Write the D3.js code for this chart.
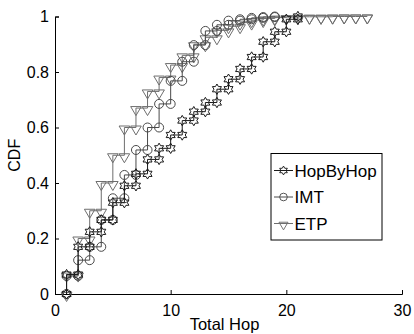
<!DOCTYPE html>
<html>
<head>
<meta charset="utf-8">
<script src="https://cdn.jsdelivr.net/npm/d3@7"></script>
<style>
  html, body { margin: 0; padding: 0; background: #fff; }
  svg { display: block; font-family: "Liberation Sans", Arial, sans-serif; }
</style>
</head>
<body>
<svg id="chart" width="414" height="334"></svg>
<script>
// Empirical CDF of total hop counts, one value per hop count starting at 1
const hopByHop = [0.07, 0.17, 0.224, 0.267, 0.329, 0.39, 0.433, 0.485, 0.525, 0.573,
                  0.625, 0.657, 0.69, 0.738, 0.774, 0.811, 0.854, 0.909, 0.945, 0.99, 1.0];
const imt      = [0.065, 0.122, 0.17, 0.267, 0.345, 0.429, 0.519, 0.60, 0.685, 0.768,
                  0.837, 0.897, 0.948, 0.97, 0.985, 0.99, 0.995, 0.998, 1.0];
const etp      = [0.07, 0.2, 0.3, 0.4, 0.5, 0.6, 0.67, 0.73, 0.78, 0.825,
                  0.86, 0.9, 0.925, 0.95, 0.965, 0.978, 0.987, 0.993, 0.996, 0.998,
                  0.999, 0.999, 0.999, 1.0, 1.0, 1.0, 1.0];
const seriesNames = ["HopByHop", "IMT", "ETP"];
const xTicks = [0, 10, 20, 30];
const yTicks = [0, 0.2, 0.4, 0.6, 0.8, 1];
const xLabel = "Total Hop";
const yLabel = "CDF";

const svg = d3.select("#chart");
const plotLeft = 55, plotRight = 402, plotTop = 16.5, plotBottom = 294;

const x = d3.scaleLinear().domain([0, 30]).range([plotLeft, plotRight]);
const y = d3.scaleLinear().domain([0, 1]).range([plotBottom, plotTop]);

// marker shapes
const starPath = (() => {
  const pts = [];
  for (let i = 0; i < 12; i++) {
    const r = i % 2 === 0 ? 5.2 : 3.0;
    const a = -Math.PI / 2 + i * Math.PI / 6;
    pts.push([r * Math.cos(a), r * Math.sin(a)]);
  }
  return "M" + pts.map(p => p[0].toFixed(2) + "," + p[1].toFixed(2)).join("L") + "Z";
})();
const circlePath = d3.symbol().type(d3.symbolCircle).size(Math.PI * 4.5 * 4.5)();
const triPath = "M-5.3,-1.5L5.3,-1.5L0,7.5Z";

const series = [
  { name: seriesNames[0], values: hopByHop, color: "#1a1a1a", marker: starPath },
  { name: seriesNames[1], values: imt,      color: "#4a4a4a", marker: circlePath },
  { name: seriesNames[2], values: etp,      color: "#6e6e6e", marker: triPath }
];

// stairs vertices: start at (1, 0), then rise at each hop count
function stairs(values) {
  const pts = [[1, 0], [1, values[0]]];
  for (let i = 1; i < values.length; i++) {
    pts.push([i + 1, values[i - 1]]);
    pts.push([i + 1, values[i]]);
  }
  return pts;
}

const line = d3.line().x(d => x(d[0])).y(d => y(d[1]));

// axes
const xAxis = d3.axisBottom(x).tickValues(xTicks).tickSize(-4).tickPadding(8).tickFormat(d3.format("d"));
const yAxis = d3.axisLeft(y).tickValues(yTicks).tickSize(-4).tickPadding(6)
  .tickFormat(d => d === 0 || d === 1 ? d3.format("d")(d) : d3.format(".1f")(d));

const gx = svg.append("g").attr("transform", `translate(0,${plotBottom})`).call(xAxis);
const gy = svg.append("g").attr("transform", `translate(${plotLeft},0)`).call(yAxis);
[gx, gy].forEach(g => {
  g.select(".domain").attr("stroke", "#000").attr("stroke-width", 1);
  g.selectAll(".tick line").attr("stroke", "#000");
  g.selectAll(".tick text").attr("fill", "#000").attr("font-size", 16)
    .attr("font-family", "Liberation Sans, Arial, sans-serif");
});
gx.selectAll(".tick text").attr("dy", "0.85em");

svg.append("text")
  .attr("x", (plotLeft + plotRight) / 2 - 4).attr("y", 330)
  .attr("text-anchor", "middle").attr("font-size", 16.5).text(xLabel);
svg.append("text")
  .attr("transform", `translate(20,${(plotTop + plotBottom) / 2}) rotate(-90)`)
  .attr("text-anchor", "middle").attr("font-size", 16).text(yLabel);

// series lines and markers
const plot = svg.append("g");
series.slice().reverse().forEach(s => {
  const pts = stairs(s.values);
  plot.append("path").datum(pts).attr("d", line)
    .attr("fill", "none").attr("stroke", s.color).attr("stroke-width", 1);
  plot.selectAll(null).data(pts).enter().append("path")
    .attr("d", s.marker)
    .attr("transform", d => `translate(${x(d[0])},${y(d[1])})`)
    .attr("fill", "none").attr("stroke", s.color).attr("stroke-width", 1);
});

// legend
const lg = svg.append("g").attr("transform", "translate(271,153.5)");
lg.append("rect").attr("width", 111).attr("height", 86.5)
  .attr("fill", "#fff").attr("stroke", "#000").attr("stroke-width", 1);
series.forEach((s, i) => {
  const cy = 17 + i * 26.5;
  lg.append("line").attr("x1", 3).attr("x2", 22).attr("y1", cy).attr("y2", cy)
    .attr("stroke", s.color);
  lg.append("path").attr("d", s.marker).attr("transform", `translate(12.5,${cy}) scale(0.85)`)
    .attr("fill", "none").attr("stroke", s.color).attr("stroke-width", 1.1);
  lg.append("text").attr("x", 23.5).attr("y", cy).attr("dy", "0.36em")
    .attr("font-size", 17).attr("fill", "#000").text(s.name);
});
</script>
</body>
</html>
